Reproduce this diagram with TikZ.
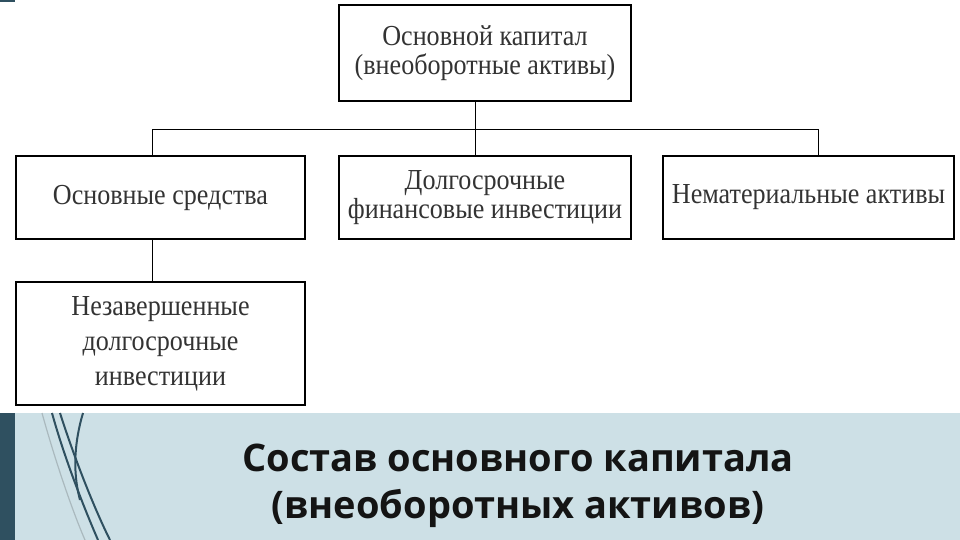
\documentclass[tikz,border=0pt]{standalone}
\usepackage{fontspec}
\setmainfont{Liberation Serif}
\newfontfamily\titlefont{Open Sans}
\newfontfamily\boxfont[FakeStretch=0.9]{Liberation Serif}
\begin{document}
\begin{tikzpicture}[x=1pt,y=-1pt,
 box/.style={draw=black,line width=1.3pt,fill=white,inner sep=0pt},
 lbl/.style={align=center,font=\boxfont\fontsize{29}{29}\selectfont,text=black!80},
 ln/.style={line width=1pt}]
\useasboundingbox (0,0) rectangle (960,540);
\fill[white] (0,0) rectangle (960,540);
\fill[fill={rgb,255:red,205;green,224;blue,230}] (0,413) rectangle (960,540);
\fill[fill={rgb,255:red,47;green,80;blue,96}] (0,413) rectangle (15,540);
\fill[fill={rgb,255:red,47;green,80;blue,96}] (0,0) rectangle (15,2);
\draw[line width=2pt,draw={rgb,255:red,47;green,80;blue,96}] (52,413) .. controls (65,460) and (85,510) .. (98,540);
\draw[line width=2pt,draw={rgb,255:red,47;green,80;blue,96}] (60,413) .. controls (75,460) and (95,510) .. (110,540);
\draw[line width=2pt,draw={rgb,255:red,47;green,80;blue,96}] (83,413) .. controls (75,440) and (72,470) .. (80,500);
\draw[line width=1.2pt,draw={rgb,255:red,170;green,185;blue,190}] (42,413) .. controls (55,460) and (72,510) .. (85,540);
\node[box,minimum width=292pt,minimum height=96pt] (top) at (485,53) {};
\node[lbl] at (top) {Основной капитал\\(внеоборотные  активы)};
\node[box,minimum width=289pt,minimum height=83pt] (os) at (160.5,197.5) {};
\node[lbl] at (os) {Основные средства};
\node[box,minimum width=292pt,minimum height=83pt] (dfi) at (485,197.5) {};
\node[lbl] at (dfi) {Долгосрочные\\финансовые инвестиции};
\node[box,minimum width=291pt,minimum height=83pt] (na) at (808.5,197.5) {};
\node[lbl] at (na) {Нематериальные активы};
\node[box,minimum width=289pt,minimum height=123pt] (ndi) at (160.5,343.5) {};
\node[lbl,font=\boxfont\fontsize{29}{35}\selectfont] at (ndi) {Незавершенные\\долгосрочные\\инвестиции};
\coordinate (hb) at (475,130);
\draw[ln] (475,101) -- (hb);
\draw[ln] (152,156) |- (818,130) -- (818,156);
\draw[ln] (475,130) -- (475,156);
\draw[ln] (152,239) -- (152,282);
\node[font=\titlefont\bfseries\fontsize{38}{47}\selectfont,align=center,text={rgb,255:red,20;green,20;blue,20}] (title) at (518,486) {Состав основного капитала\\(внеоборотных активов)};
\end{tikzpicture}
\end{document}
